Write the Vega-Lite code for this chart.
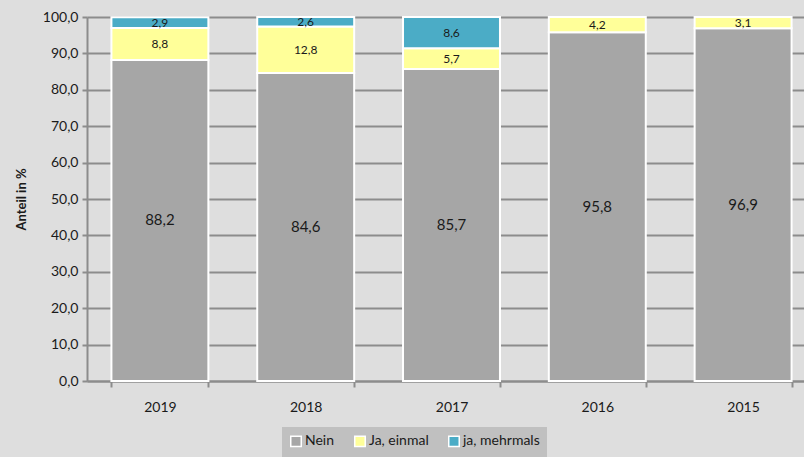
{
  "$schema": "https://vega.github.io/schema/vega-lite/v6.json",
  "autosize": {"type": "none"},
  "padding": {"left": 87, "top": 17, "right": 0, "bottom": 76},
  "width": 717,
  "height": 364,
  "background": "#dedede",
  "data": {
    "values": [
      {"jahr": "2019", "kat": "Nein", "ord": 1, "wert": 88.2},
      {"jahr": "2019", "kat": "Ja, einmal", "ord": 2, "wert": 8.8},
      {"jahr": "2019", "kat": "ja, mehrmals", "ord": 3, "wert": 2.9},
      {"jahr": "2018", "kat": "Nein", "ord": 1, "wert": 84.6},
      {"jahr": "2018", "kat": "Ja, einmal", "ord": 2, "wert": 12.8},
      {"jahr": "2018", "kat": "ja, mehrmals", "ord": 3, "wert": 2.6},
      {"jahr": "2017", "kat": "Nein", "ord": 1, "wert": 85.7},
      {"jahr": "2017", "kat": "Ja, einmal", "ord": 2, "wert": 5.7},
      {"jahr": "2017", "kat": "ja, mehrmals", "ord": 3, "wert": 8.6},
      {"jahr": "2016", "kat": "Nein", "ord": 1, "wert": 95.8},
      {"jahr": "2016", "kat": "Ja, einmal", "ord": 2, "wert": 4.2},
      {"jahr": "2015", "kat": "Nein", "ord": 1, "wert": 96.9},
      {"jahr": "2015", "kat": "Ja, einmal", "ord": 2, "wert": 3.1}
    ]
  },
  "transform": [
    {"stack": "wert", "groupby": ["jahr"], "sort": [{"field": "ord", "order": "ascending"}], "as": ["y0", "y1"]},
    {"calculate": "(datum.y0 + datum.y1) / 2", "as": "ymid"}
  ],
  "encoding": {
    "x": {
      "field": "jahr",
      "type": "nominal",
      "sort": ["2019", "2018", "2017", "2016", "2015"],
      "scale": {"range": [0, 729], "paddingInner": 0.335, "paddingOuter": 0.1675},
      "axis": {
        "title": null,
        "labelAngle": 0,
        "labelFontSize": 14,
        "labelPadding": 13,
        "labelColor": "#1a1a1a",
        "domainColor": "#8c8c8c",
        "domainWidth": 2,
        "tickColor": "#8c8c8c",
        "tickWidth": 2,
        "tickSize": 6,
        "tickBand": "extent",
        "grid": false
      }
    }
  },
  "layer": [
    {
      "mark": {"type": "bar", "stroke": "white", "strokeWidth": 2},
      "encoding": {
        "y": {
          "field": "y0",
          "type": "quantitative",
          "scale": {"domain": [0, 100]},
          "axis": {
            "title": "Anteil in %",
            "titleFontSize": 13,
            "titleFontWeight": "bold",
            "titleColor": "#1a1a1a",
            "titlePadding": 14,
            "values": [0, 10, 20, 30, 40, 50, 60, 70, 80, 90, 100],
            "format": ".1f",
            "labelOverlap": false,
            "labelFontSize": 14,
            "labelColor": "#1a1a1a",
            "labelPadding": 4,
            "domainColor": "#8c8c8c",
            "domainWidth": 2,
            "tickColor": "#8c8c8c",
            "tickWidth": 2,
            "tickSize": 5,
            "gridColor": "#8c8c8c",
            "gridWidth": 2
          }
        },
        "y2": {"field": "y1"},
        "color": {
          "field": "kat",
          "type": "nominal",
          "scale": {
            "domain": ["Nein", "Ja, einmal", "ja, mehrmals"],
            "range": ["#a6a6a6", "#ffff99", "#4bacc6"]
          },
          "legend": {
            "title": null,
            "orient": "none",
            "direction": "horizontal",
            "legendX": 195,
            "legendY": 410,
            "fillColor": "#c0c0c0",
            "padding": 7,
            "symbolType": "square",
            "symbolSize": 110,
            "symbolStrokeColor": "white",
            "symbolStrokeWidth": 1.5,
            "labelFontSize": 14,
            "labelColor": "#1a1a1a",
            "labelOffset": 2,
            "columnPadding": 16
          }
        }
      }
    },
    {
      "mark": {"type": "text", "color": "#1a1a1a", "baseline": "middle", "align": "center"},
      "encoding": {
        "y": {
          "field": "ymid",
          "type": "quantitative",
          "scale": {"domain": [0, 100]},
          "axis": {
            "title": "Anteil in %",
            "titleFontSize": 13,
            "titleFontWeight": "bold",
            "titleColor": "#1a1a1a",
            "titlePadding": 14,
            "values": [0, 10, 20, 30, 40, 50, 60, 70, 80, 90, 100],
            "format": ".1f",
            "labelOverlap": false,
            "labelFontSize": 14,
            "labelColor": "#1a1a1a",
            "labelPadding": 4,
            "domainColor": "#8c8c8c",
            "domainWidth": 2,
            "tickColor": "#8c8c8c",
            "tickWidth": 2,
            "tickSize": 5,
            "gridColor": "#8c8c8c",
            "gridWidth": 2
          }
        },
        "text": {"field": "wert", "type": "quantitative", "format": ".1f"},
        "size": {"condition": {"test": "datum.kat === 'Nein'", "value": 15}, "value": 12}
      }
    }
  ],
  "config": {
    "font": "Lato",
    "view": {"stroke": null},
    "locale": {
      "number": {"decimal": ",", "thousands": ".", "grouping": [3], "currency": ["", " €"]}
    }
  }
}
